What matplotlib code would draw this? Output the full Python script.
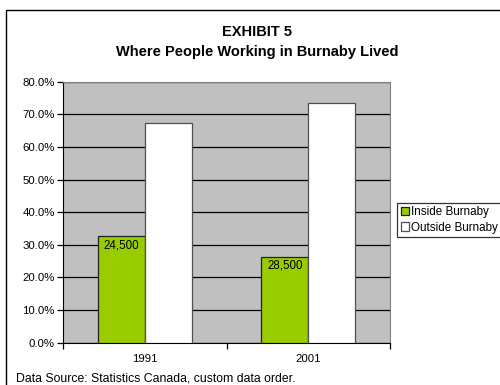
import matplotlib.pyplot as plt
from matplotlib.patches import Rectangle
import numpy as np

plt.rcParams["font.family"] = ["Liberation Sans", "DejaVu Sans"]

years = ["1991", "2001"]
inside_pct = [32.7, 26.4]
outside_pct = [67.3, 73.6]
inside_counts = ["24,500", "28,500"]

fig = plt.figure(figsize=(5.0, 3.85), dpi=100)
fig.patch.set_facecolor("white")

# outer chart frame, running off the right and bottom edges
fig.patches.append(Rectangle((0.012, -0.05), 1.1, 1.024, transform=fig.transFigure,
                             fill=False, edgecolor="black", linewidth=1.0))

ax = fig.add_axes([0.126, 0.110, 0.654, 0.678])
ax.set_facecolor("#C0C0C0")

x = np.arange(len(years))
w = 0.287
ax.bar(x - w / 2, inside_pct, w, color="#99CC00", edgecolor="#202020",
       linewidth=0.9, label="Inside Burnaby", zorder=3)
ax.bar(x + w / 2, outside_pct, w, color="white", edgecolor="#505050",
       linewidth=0.9, label="Outside Burnaby", zorder=3)

for xi, val, txt in zip(x, inside_pct, inside_counts):
    ax.text(xi - w / 2, val - 1.0, txt, ha="center", va="top", fontsize=8.3, zorder=4)

ax.set_xlim(-0.5, 1.5)
ax.set_ylim(0, 80)
yt = np.arange(0, 81, 10)
ax.set_yticks(yt)
ax.set_yticklabels([f"{v:.1f}%" for v in yt], fontsize=8.2)
ax.yaxis.grid(True, color="black", linewidth=0.9, zorder=1)

ax.set_xticks([-0.5, 0.5, 1.5])
ax.set_xticklabels([])
ax.set_xticks(x, minor=True)
ax.set_xticklabels(years, minor=True, fontsize=8.2)
ax.tick_params(axis="x", which="minor", length=0, pad=8)
ax.tick_params(axis="x", which="major", length=4, direction="out", width=0.9)
ax.tick_params(axis="y", length=4, direction="out", width=0.9, pad=2)

for side in ["top", "right"]:
    ax.spines[side].set_color("#808080")
ax.spines["left"].set_color("black")
ax.spines["bottom"].set_color("black")

fig.text(0.514, 0.917, "EXHIBIT 5", ha="center", va="center",
         fontsize=10.5, fontweight="bold")
fig.text(0.514, 0.866, "Where People Working in Burnaby Lived", ha="center",
         va="center", fontsize=10.5, fontweight="bold")

leg = fig.legend(loc="upper left", bbox_to_anchor=(0.794, 0.474), fontsize=8.4,
                 frameon=True, fancybox=False, edgecolor="black",
                 handlelength=0.7, handleheight=0.7, handletextpad=0.2,
                 borderpad=0.3, labelspacing=0.3, borderaxespad=0)
leg.get_frame().set_linewidth(0.9)

fig.text(0.032, 0.018, "Data Source: Statistics Canada, custom data order.",
         ha="left", va="center", fontsize=8.8)

fig.savefig("out.png", dpi=100)
